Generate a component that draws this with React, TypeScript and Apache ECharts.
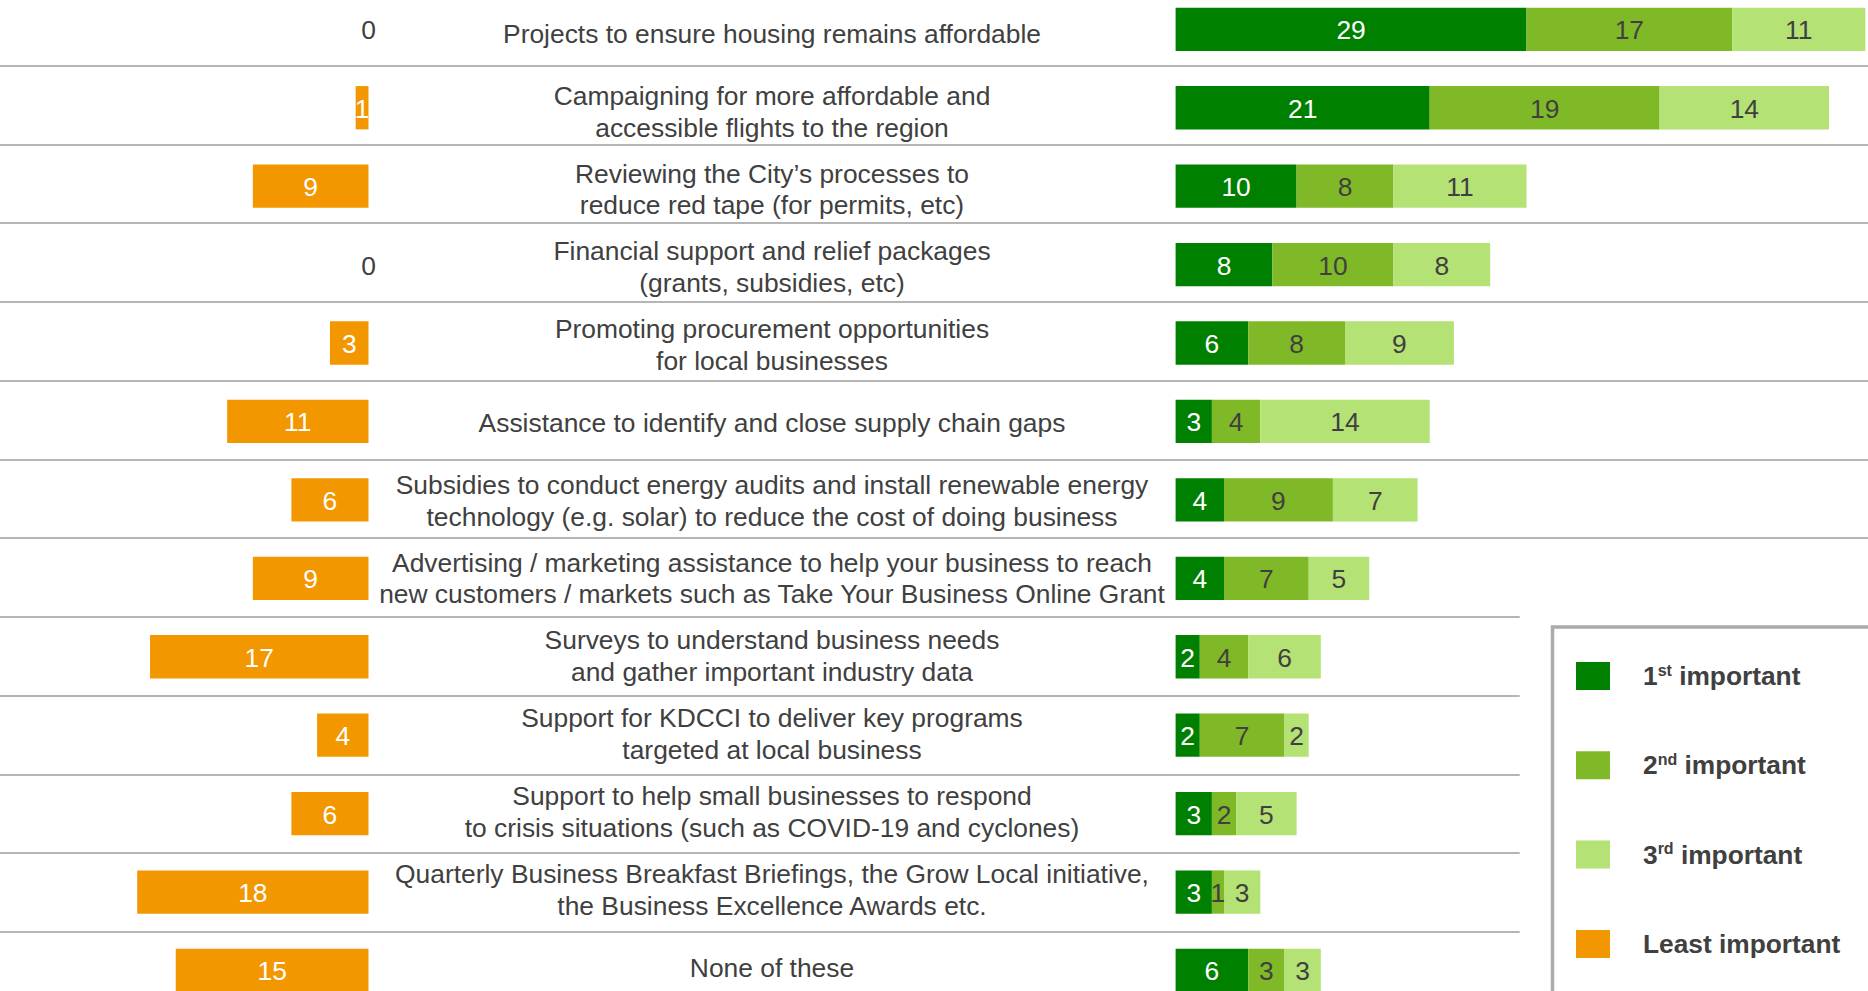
import React, { useEffect, useRef } from 'react';
import * as echarts from 'echarts';

const categories = [
  'Projects to ensure housing remains affordable',
  'Campaigning for more affordable and\naccessible flights to the region',
  'Reviewing the City’s processes to\nreduce red tape (for permits, etc)',
  'Financial support and relief packages\n(grants, subsidies, etc)',
  'Promoting procurement opportunities\nfor local businesses',
  'Assistance to identify and close supply chain gaps',
  'Subsidies to conduct energy audits and install renewable energy\ntechnology (e.g. solar) to reduce the cost of doing business',
  'Advertising / marketing assistance to help your business to reach\nnew customers / markets such as Take Your Business Online Grant',
  'Surveys to understand business needs\nand gather important industry data',
  'Support for KDCCI to deliver key programs\ntargeted at local business',
  'Support to help small businesses to respond\nto crisis situations (such as COVID-19 and cyclones)',
  'Quarterly Business Breakfast Briefings, the Grow Local initiative,\nthe Business Excellence Awards etc.',
  'None of these',
];

const leastImportant = [0, 1, 9, 0, 3, 11, 6, 9, 17, 4, 6, 18, 15];
const firstImportant = [29, 21, 10, 8, 6, 3, 4, 4, 2, 2, 3, 3, 6];
const secondImportant = [17, 19, 8, 10, 8, 4, 9, 7, 4, 7, 2, 1, 3];
const thirdImportant = [11, 14, 11, 8, 9, 14, 7, 5, 6, 2, 5, 3, 3];

const seriesNames = ['1st important', '2nd important', '3rd important', 'Least important'];
const legendParts: Record<string, [string, string]> = {
  '1st important': ['1', 'st'],
  '2nd important': ['2', 'nd'],
  '3rd important': ['3', 'rd'],
};

const FONT = "'Liberation Sans', Arial, sans-serif";
const TEXT = '#404040';
const C1 = '#008000';
const C2 = '#80b927';
const C3 = '#b5e274';
const CO = '#f39700';

export default function App() {
  const ref = useRef<HTMLDivElement>(null);
  useEffect(() => {
    if (!ref.current) return;
    const chart = echarts.init(ref.current, undefined, { renderer: 'svg' });
    const band = 78.43;
    const gridTop = 29.3 - band / 2;
    const gridH = band * categories.length;
    const sepBand = 78.73;
    const sepTop = 65.7 - sepBand;
    const labelBand = 77.8;
    const labelTop = 33.9 - labelBand / 2;
    const greenLeft = 1175.6;
    const greenMax = 57;
    const greenUnit = 12.1;
    const orangeRight = 368.5;
    const orangeMax = 28;
    const orangeUnit = 12.85;
    const topRows = 7;

    const numLabel = (color: string) => ({
      show: true,
      position: 'inside',
      color,
      fontSize: 26.4,
      fontFamily: FONT,
      offset: [0, 1],
    });

    const hiddenX = (gridIndex: number, max: number, inverse = false) => ({
      type: 'value',
      gridIndex,
      min: 0,
      max,
      inverse,
      show: false,
      splitLine: { show: false },
    });

    const catAxisBase = {
      type: 'category',
      inverse: true,
      axisLine: { show: false },
      axisTick: { show: false },
    };

    const gridBase = { outerBoundsMode: 'none', containLabel: false };

    chart.setOption({
      animation: false,
      textStyle: { fontFamily: FONT },
      grid: [
        { ...gridBase, left: orangeRight - orangeMax * orangeUnit, top: gridTop, width: orangeMax * orangeUnit, height: gridH },
        { ...gridBase, left: greenLeft, top: gridTop, width: greenMax * greenUnit, height: gridH },
        { ...gridBase, left: 0, top: sepTop, width: 1868, height: sepBand * topRows },
        { ...gridBase, left: 0, top: sepTop + sepBand * topRows, width: 1519.7, height: sepBand * (categories.length - topRows) },
        { ...gridBase, left: greenLeft, top: labelTop, width: greenMax * greenUnit, height: labelBand * categories.length },
      ],
      xAxis: [
        hiddenX(0, orangeMax, true),
        hiddenX(1, greenMax),
        hiddenX(2, 1),
        hiddenX(3, 1),
        hiddenX(4, 1),
      ],
      yAxis: [
        { ...catAxisBase, gridIndex: 0, data: categories, axisLabel: { show: false } },
        { ...catAxisBase, gridIndex: 1, data: categories, axisLabel: { show: false } },
        {
          ...catAxisBase,
          gridIndex: 2,
          data: categories.slice(0, topRows),
          axisLabel: { show: false, interval: 0 },
          splitLine: { show: true, interval: 0, lineStyle: { color: '#b5b5b5', width: 2 } },
        },
        {
          ...catAxisBase,
          gridIndex: 3,
          data: categories.slice(topRows),
          axisLabel: { show: false, interval: 0 },
          splitLine: { show: true, interval: 0, lineStyle: { color: '#b5b5b5', width: 2 } },
        },
        {
          ...catAxisBase,
          gridIndex: 4,
          data: categories,
          axisLabel: {
            show: true,
            interval: 0,
            align: 'center',
            margin: greenLeft - 772,
            color: TEXT,
            fontSize: 26.4,
            lineHeight: 31.7,
            fontFamily: FONT,
          },
        },
      ],
      legend: {
        orient: 'vertical',
        left: 1571,
        top: 657,
        itemWidth: 34,
        itemHeight: 28,
        itemGap: 61.3,
        icon: 'rect',
        data: seriesNames,
        selectedMode: false,
        formatter: (name: string) => {
          const p = legendParts[name];
          if (p) return `{gap| }${p[0]}{sup|${p[1]}} important`;
          return `{gap| }${name}`;
        },
        textStyle: {
          color: TEXT,
          fontSize: 26.3,
          fontWeight: 'bold',
          fontFamily: FONT,
          lineHeight: 28,
          rich: {
            gap: { width: 28, fontSize: 26.3, lineHeight: 28 },
            sup: {
              fontSize: 16,
              fontWeight: 'bold',
              color: TEXT,
              fontFamily: FONT,
              lineHeight: 14,
              verticalAlign: 'top',
            },
          },
        },
      },
      graphic: [
        {
          type: 'rect',
          x: 1552.5,
          y: 627,
          shape: { x: 0, y: 0, width: 400, height: 500 },
          style: { fill: 'none', stroke: '#ababab', lineWidth: 3.5 },
          z: -1,
          silent: true,
        },
      ],
      series: [
        {
          name: '1st important',
          type: 'bar',
          xAxisIndex: 1,
          yAxisIndex: 1,
          stack: 'green',
          barWidth: 43.3,
          data: firstImportant,
          itemStyle: { color: C1 },
          label: numLabel('#ffffff'),
        },
        {
          name: '2nd important',
          type: 'bar',
          xAxisIndex: 1,
          yAxisIndex: 1,
          stack: 'green',
          barWidth: 43.3,
          data: secondImportant,
          itemStyle: { color: C2 },
          label: numLabel(TEXT),
        },
        {
          name: '3rd important',
          type: 'bar',
          xAxisIndex: 1,
          yAxisIndex: 1,
          stack: 'green',
          barWidth: 43.3,
          data: thirdImportant,
          itemStyle: { color: C3 },
          label: numLabel(TEXT),
        },
        {
          name: 'Least important',
          type: 'bar',
          xAxisIndex: 0,
          yAxisIndex: 0,
          barWidth: 43.3,
          data: leastImportant.map((v) => (v === 0 ? { value: v, label: { color: TEXT } } : v)),
          itemStyle: { color: CO },
          label: numLabel('#ffffff'),
        },
      ],
    });
    return () => chart.dispose();
  }, []);
  return (
    <div
      ref={ref}
      style={{ position: 'absolute', left: 0, top: 0, width: 1868, height: 991, background: '#ffffff' }}
    />
  );
}
